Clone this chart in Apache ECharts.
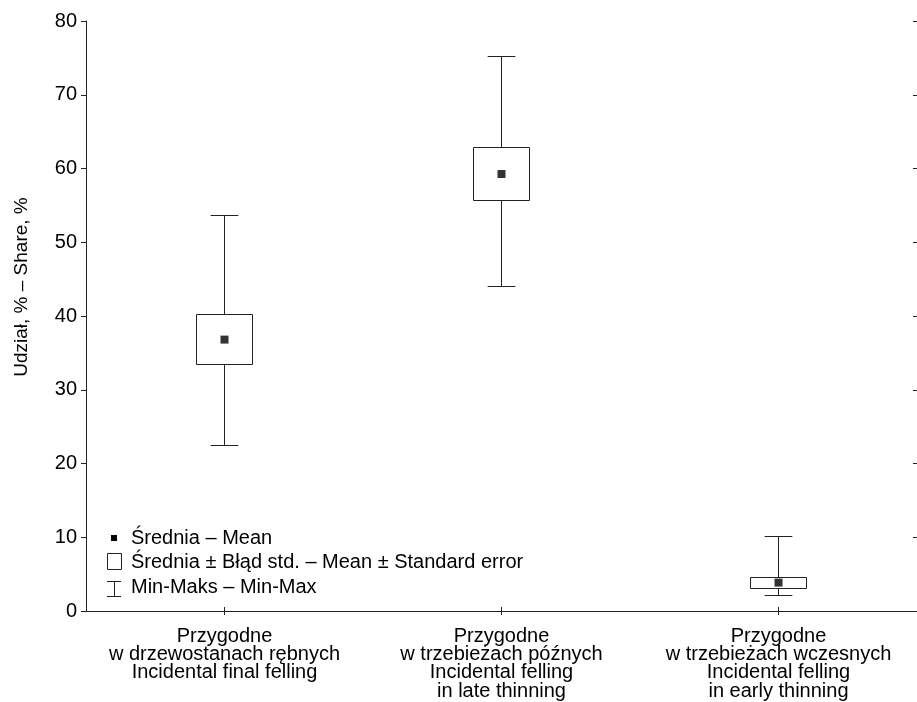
<!DOCTYPE html>
<html>
<head>
<meta charset="utf-8">
<script src="https://cdn.jsdelivr.net/npm/echarts@6/dist/echarts.min.js"></script>
<style>
html,body{margin:0;padding:0;background:#fff;}
#chart{width:917px;height:702px;}
</style>
</head>
<body>
<div id="chart"></div>
<script>
// ---- data ----
var categories = [
  'Przygodne\nw drzewostanach rębnych\nIncidental final felling',
  'Przygodne\nw trzebieżach późnych\nIncidental felling\nin late thinning',
  'Przygodne\nw trzebieżach wczesnych\nIncidental felling\nin early thinning'
];
var means  = [36.8, 59.25, 3.85];
var seLow  = [33.45, 55.7, 3.05];
var seHigh = [40.2, 62.85, 4.55];
var mins   = [22.5, 44.05, 2.15];
var maxs   = [53.65, 75.25, 10.15];
var yTicks = [0, 10, 20, 30, 40, 50, 60, 70, 80];

var legendNames = [
  'Średnia – Mean',
  'Średnia ± Błąd std. – Mean ± Standard error',
  'Min-Maks – Min-Max'
];
var yAxisName = 'Udział, % – Share, %';

var FONT = "'Liberation Sans', Arial, sans-serif";
var FS = 20;
var LINE = '#222';

var rows = categories.map(function (c, i) {
  return [i, means[i], seLow[i], seHigh[i], mins[i], maxs[i]];
});

function crisp(v) { return Math.round(v - 0.5) + 0.5; }

function whiskerItem(params, api) {
  var i = api.value(0);
  var band = api.size([1, 0])[0];
  var capW = band * 0.1;
  var pMin = api.coord([i, api.value(4)]);
  var pMax = api.coord([i, api.value(5)]);
  var x = crisp(pMin[0]);
  var yMin = crisp(pMin[1]), yMax = crisp(pMax[1]);
  var style = { stroke: LINE, lineWidth: 1 };
  return {
    type: 'group',
    children: [
      { type: 'line', shape: { x1: x, y1: yMin, x2: x, y2: yMax }, style: style },
      { type: 'line', shape: { x1: x - capW / 2, y1: yMax, x2: x + capW / 2, y2: yMax }, style: style },
      { type: 'line', shape: { x1: x - capW / 2, y1: yMin, x2: x + capW / 2, y2: yMin }, style: style }
    ]
  };
}

function boxItem(params, api) {
  var i = api.value(0);
  var band = api.size([1, 0])[0];
  var boxW = band * 0.2;
  var pLo = api.coord([i, api.value(2)]);
  var pHi = api.coord([i, api.value(3)]);
  var x0 = crisp(pLo[0] - boxW / 2), x1 = crisp(pLo[0] + boxW / 2);
  var yTop = crisp(pHi[1]), yBot = crisp(pLo[1]);
  return {
    type: 'rect',
    shape: { x: x0, y: yTop, width: x1 - x0, height: yBot - yTop },
    style: { fill: '#fff', stroke: LINE, lineWidth: 1 }
  };
}

var chart = echarts.init(document.getElementById('chart'), null, { renderer: 'canvas' });

var legendFont = FS + 'px ' + FONT;

var option = {
  backgroundColor: '#fff',
  animation: false,
  textStyle: { fontFamily: FONT },
  grid: { left: 86, right: -1, top: 21, bottom: 91, containLabel: false },
  xAxis: [
    {
      type: 'category',
      data: categories,
      position: 'bottom',
      boundaryGap: true,
      axisLine: { show: true, lineStyle: { color: LINE, width: 1 } },
      axisTick: { show: true, inside: true, alignWithLabel: true, length: 4, lineStyle: { color: LINE } },
      axisLabel: { color: '#000', fontSize: FS, fontFamily: FONT, lineHeight: 18.3, margin: 16, interval: 0 },
      splitLine: { show: false }
    },
    {
      type: 'category',
      data: categories,
      position: 'top',
      boundaryGap: true,
      axisLine: { show: true, lineStyle: { color: LINE, width: 1 } },
      axisTick: { show: true, inside: true, alignWithLabel: true, length: 4, lineStyle: { color: LINE } },
      axisLabel: { show: false },
      splitLine: { show: false }
    }
  ],
  yAxis: [
    {
      type: 'value',
      min: yTicks[0],
      max: yTicks[yTicks.length - 1],
      interval: yTicks[1] - yTicks[0],
      position: 'left',
      name: yAxisName,
      nameLocation: 'middle',
      nameGap: 55,
      nameTextStyle: { color: '#000', fontSize: 19, fontFamily: FONT, padding: [0, 0, 0, 58] },
      axisLine: { show: true, lineStyle: { color: LINE, width: 1 } },
      axisTick: { show: true, inside: false, length: 5, lineStyle: { color: LINE } },
      axisLabel: { color: '#000', fontSize: FS, fontFamily: FONT, margin: 9 },
      splitLine: { show: false }
    },
    {
      type: 'value',
      min: yTicks[0],
      max: yTicks[yTicks.length - 1],
      interval: yTicks[1] - yTicks[0],
      position: 'right',
      axisLine: { show: true, lineStyle: { color: LINE, width: 1 } },
      axisTick: { show: true, inside: true, length: 4, lineStyle: { color: LINE } },
      axisLabel: { show: false },
      splitLine: { show: false }
    }
  ],
  series: [
    {
      name: legendNames[2],
      type: 'custom',
      renderItem: whiskerItem,
      data: rows,
      encode: { x: 0, y: [4, 5] },
      z: 2
    },
    {
      name: legendNames[1],
      type: 'custom',
      renderItem: boxItem,
      data: rows,
      encode: { x: 0, y: [2, 3] },
      z: 3
    },
    {
      name: legendNames[0],
      type: 'scatter',
      data: rows.map(function (r) { return [r[0], r[1]]; }),
      symbol: 'rect',
      symbolSize: 8,
      itemStyle: { color: '#000' },
      z: 4
    }
  ],
  graphic: [
    { type: 'rect', shape: { x: 111, y: 535, width: 6, height: 6 }, style: { fill: '#000' }, z: 10 },
    { type: 'text', x: 131, y: 538, style: { text: legendNames[0], font: legendFont, fill: '#000', verticalAlign: 'middle' }, z: 10 },
    { type: 'rect', shape: { x: 107.5, y: 553.5, width: 14, height: 16 }, style: { fill: '#fff', stroke: LINE, lineWidth: 1 }, z: 10 },
    { type: 'text', x: 131, y: 562, style: { text: legendNames[1], font: legendFont, fill: '#000', verticalAlign: 'middle' }, z: 10 },
    { type: 'line', shape: { x1: 114.5, y1: 581.5, x2: 114.5, y2: 596.5 }, style: { stroke: LINE, lineWidth: 1 }, z: 10 },
    { type: 'line', shape: { x1: 107, y1: 581.5, x2: 121, y2: 581.5 }, style: { stroke: LINE, lineWidth: 1 }, z: 10 },
    { type: 'line', shape: { x1: 107, y1: 596.5, x2: 121, y2: 596.5 }, style: { stroke: LINE, lineWidth: 1 }, z: 10 },
    { type: 'text', x: 131, y: 587, style: { text: legendNames[2], font: legendFont, fill: '#000', verticalAlign: 'middle' }, z: 10 }
  ]
};

chart.setOption(option);
</script>
</body>
</html>
